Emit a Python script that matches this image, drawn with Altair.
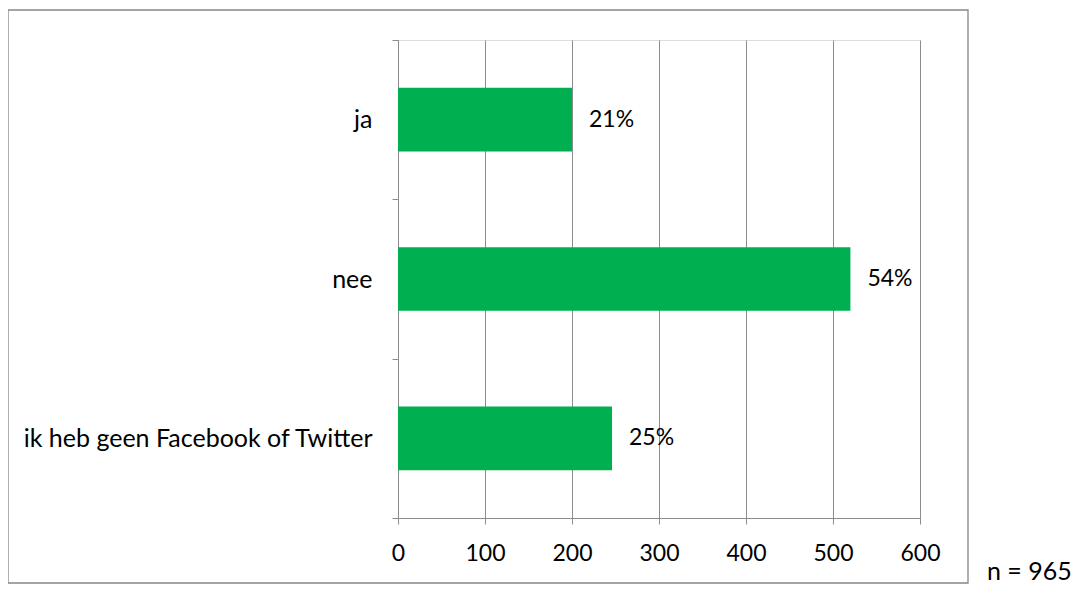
import altair as alt
import pandas as pd

categories = ["ja", "nee", "ik heb geen Facebook of Twitter"]
counts = [200, 520, 246]
pct_labels = ["21%", "54%", "25%"]
note = "n = 965"

df = pd.DataFrame({"cat": categories, "n": counts, "lbl": pct_labels})

FONT = "Lato"
FS_CAT = 25
FS = 23
GRID = "#8c8c8c"

y_enc = alt.Y(
    "cat:N",
    sort=categories,
    title=None,
    scale=alt.Scale(paddingInner=0, paddingOuter=0),
    axis=alt.Axis(
        tickBand="extent",
        tickSize=6,
        tickColor=GRID,
        domainColor=GRID,
        labelPadding=20,
        labelFontSize=FS_CAT,
        labelFont=FONT,
        labelColor="#000000",
        labelLimit=0,
        grid=False,
    ),
)

x_enc = alt.X(
    "n:Q",
    title=None,
    scale=alt.Scale(domain=[0, 600], nice=False),
    axis=alt.Axis(
        values=[0, 100, 200, 300, 400, 500, 600],
        tickSize=6,
        tickColor=GRID,
        domainColor=GRID,
        gridColor=GRID,
        grid=True,
        labelFlush=False,
        labelPadding=18,
        labelFontSize=FS,
        labelFont=FONT,
        labelColor="#000000",
    ),
)

bars = alt.Chart(df).mark_bar(color="#00B050", height={"band": 0.4}).encode(x=x_enc, y=y_enc)

text = alt.Chart(df).mark_text(
    align="left", baseline="middle", dx=17, fontSize=FS, font=FONT, color="#000000"
).encode(x="n:Q", y=alt.Y("cat:N", sort=categories), text="lbl:N")

frame = alt.Chart(pd.DataFrame({"a": [0]})).mark_rect(
    fill=None, stroke="#868686", strokeWidth=1.3
).encode(
    x=alt.value(-390), x2=alt.value(570), y=alt.value(-30), y2=alt.value(543)
)

ntext = alt.Chart(pd.DataFrame({"t": [note]})).mark_text(
    align="left", baseline="middle", fontSize=FS_CAT, font=FONT, color="#000000"
).encode(x=alt.value(589), y=alt.value(532), text="t:N")

chart = (
    alt.layer(bars, text, frame, ntext)
    .properties(
        width=522,
        height=478,
        autosize=alt.AutoSizeParams(type="none"),
        padding={"left": 390, "top": 32, "right": 157, "bottom": 66},
    )
    .configure_view(stroke=None)
    .configure(background="white")
)

chart.save("out.html", embed_options={"renderer": "svg", "actions": False})
